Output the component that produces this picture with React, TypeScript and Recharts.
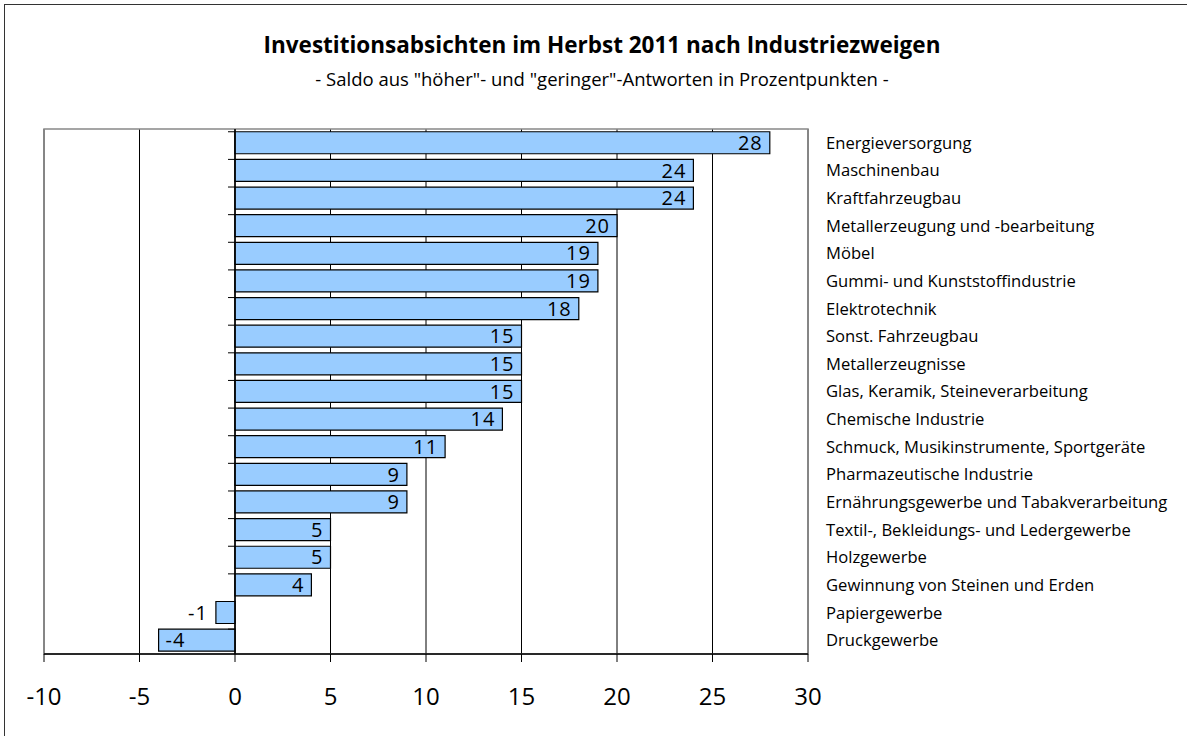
import React from 'react';
import { BarChart, Bar, XAxis, YAxis, CartesianGrid, ReferenceLine, ReferenceArea, LabelList, Rectangle } from 'recharts';

const categories = [
  'Energieversorgung',
  'Maschinenbau',
  'Kraftfahrzeugbau',
  'Metallerzeugung und -bearbeitung',
  'Möbel',
  'Gummi- und Kunststoffindustrie',
  'Elektrotechnik',
  'Sonst. Fahrzeugbau',
  'Metallerzeugnisse',
  'Glas, Keramik, Steineverarbeitung',
  'Chemische Industrie',
  'Schmuck, Musikinstrumente, Sportgeräte',
  'Pharmazeutische Industrie',
  'Ernährungsgewerbe und Tabakverarbeitung',
  'Textil-, Bekleidungs- und Ledergewerbe',
  'Holzgewerbe',
  'Gewinnung von Steinen und Erden',
  'Papiergewerbe',
  'Druckgewerbe',
];
const values = [28, 24, 24, 20, 19, 19, 18, 15, 15, 15, 14, 11, 9, 9, 5, 5, 4, -1, -4];
const xTicks = [-10, -5, 0, 5, 10, 15, 20, 25, 30];

const title = 'Investitionsabsichten im Herbst 2011 nach Industriezweigen';
const subtitle = '- Saldo aus "höher"- und "geringer"-Antworten in Prozentpunkten -';

const data = categories.map((name, i) => ({ name, value: values[i] }));

const FONT = '"Open Sans", "Noto Sans", sans-serif';

const BarShape = (props: any) => {
  const { x, y, width, height, value, background } = props;
  const v = Array.isArray(value) ? value[1] : value;
  const left = Math.min(x, x + width);
  const right = Math.max(x, x + width);
  const zeroX = v >= 0 ? left : right;
  const bandTop = background && typeof background.y === 'number' ? background.y : y - (height / 0.9) * 0.05;
  return (
    <g>
      <Rectangle x={left} y={y} width={right - left} height={height} fill="#99CCFF" stroke="#000" strokeWidth={1.2} />
      <line x1={zeroX - 7} x2={zeroX} y1={bandTop} y2={bandTop} stroke="#000" strokeWidth={1} />
    </g>
  );
};

const ValueLabel = (props: any) => {
  const { x, y, width, height, value } = props;
  const left = Math.min(x, x + width);
  const right = Math.max(x, x + width);
  const cy = y + height / 2;
  let tx = right - 7;
  let anchor: 'start' | 'end' = 'end';
  if (value < 0) {
    if (right - left > 30) {
      tx = left + 7;
      anchor = 'start';
    } else {
      tx = left - 8;
      anchor = 'end';
    }
  }
  return (
    <text x={tx} y={cy} dy="0.36em" textAnchor={anchor} fontSize={20} fontFamily={FONT} fill="#000" letterSpacing={1}>
      {value}
    </text>
  );
};

const CatTick = (props: any) => {
  const { x, y, payload } = props;
  return (
    <text x={x + 18} y={y} dy="0.36em" textAnchor="start" fontSize={16.6} fontFamily={FONT} fill="#000">
      {payload.value}
    </text>
  );
};

const NumTick = (props: any) => {
  const { x, y, payload } = props;
  return (
    <text x={x} y={y} dy={43} textAnchor="middle" fontSize={24} fontFamily={FONT} fill="#000">
      {payload.value}
    </text>
  );
};

export default function App() {
  return (
    <div style={{ position: 'absolute', left: 0, top: 0, width: 1187, height: 736, overflow: 'hidden', background: '#fff' }}>
      <div style={{ position: 'absolute', left: 4, top: 4, width: 1200, height: 760, border: '1px solid #333', boxSizing: 'border-box' }} />
      <div style={{ position: 'absolute', left: 0, width: 1204, top: 29, textAlign: 'center', fontFamily: FONT, fontWeight: 'bold', fontSize: 22.5, lineHeight: '32px', color: '#000' }}>
        {title}
      </div>
      <div style={{ position: 'absolute', left: 0, width: 1204, top: 65, textAlign: 'center', fontFamily: FONT, fontSize: 18.5, lineHeight: '28px', color: '#000' }}>
        {subtitle}
      </div>
      <div style={{ position: 'absolute', left: 0, top: 0 }}>
        <BarChart
          width={1187}
          height={736}
          data={data}
          layout="vertical"
          margin={{ top: 129, right: 19, bottom: 42, left: 44 }}
          barCategoryGap="10%"
        >
          <CartesianGrid horizontal={false} vertical={true} stroke="#000" strokeWidth={1} />
          <ReferenceArea x1={-10} x2={30} fill="none" stroke="#888" strokeWidth={1.5} fillOpacity={0} ifOverflow="visible" />
          <XAxis
            type="number"
            domain={[-10, 30]}
            ticks={xTicks}
            interval={0}
            allowDataOverflow
            height={40}
            axisLine={{ stroke: '#000', strokeWidth: 1.5 }}
            tickLine={{ stroke: '#000' }}
            tickSize={8}
            tickMargin={0}
            tick={<NumTick />}
          />
          <YAxis
            type="category"
            dataKey="name"
            orientation="right"
            width={360}
            axisLine={false}
            tickLine={false}
            tickSize={0}
            tickMargin={0}
            interval={0}
            tick={<CatTick />}
          />
          <Bar dataKey="value" isAnimationActive={false} shape={<BarShape />}>
            <LabelList dataKey="value" content={<ValueLabel />} />
          </Bar>
          <ReferenceLine x={0} stroke="#000" strokeWidth={1.5} />
        </BarChart>
      </div>
    </div>
  );
}
